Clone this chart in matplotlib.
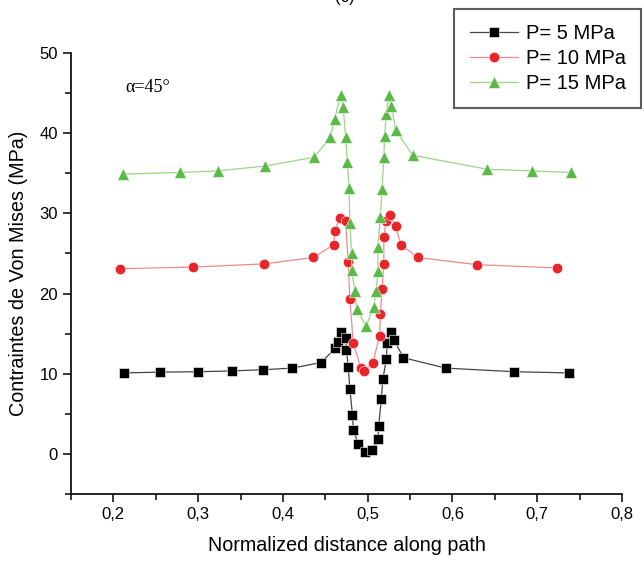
import matplotlib.pyplot as plt
from matplotlib.ticker import MultipleLocator, FuncFormatter

plt.rcParams['font.family'] = ['Liberation Sans', 'DejaVu Sans']

# P = 5 MPa
x_5 = [0.213, 0.255, 0.300, 0.340, 0.376, 0.411, 0.445, 0.462, 0.465, 0.469, 0.474, 0.475,
       0.477, 0.479, 0.482, 0.483, 0.489, 0.497, 0.505, 0.512, 0.513, 0.516, 0.518, 0.522,
       0.523, 0.527, 0.531, 0.542, 0.592, 0.673, 0.738]
y_5 = [10.1, 10.2, 10.25, 10.35, 10.5, 10.7, 11.4, 13.2, 14.0, 15.25, 14.5, 12.9,
       10.9, 8.1, 4.9, 3.0, 1.2, 0.2, 0.5, 1.8, 3.5, 6.8, 9.4, 11.8,
       13.8, 15.2, 14.25, 12.0, 10.7, 10.25, 10.1]

# P = 10 MPa
x_10 = [0.208, 0.294, 0.378, 0.436, 0.460, 0.461, 0.467, 0.474, 0.477, 0.479, 0.483, 0.492,
        0.496, 0.506, 0.514, 0.515, 0.517, 0.519, 0.519, 0.522, 0.526, 0.533, 0.539, 0.559,
        0.629, 0.723]
y_10 = [23.1, 23.3, 23.7, 24.5, 26.1, 27.8, 29.4, 29.0, 23.9, 19.3, 13.8, 10.7,
        10.3, 11.3, 14.7, 17.4, 20.6, 23.7, 27.1, 29.0, 29.8, 28.4, 26.1, 24.5,
        23.6, 23.2]

# P = 15 MPa
x_15 = [0.211, 0.279, 0.323, 0.379, 0.437, 0.456, 0.461, 0.468, 0.471, 0.474, 0.476, 0.478,
        0.479, 0.481, 0.481, 0.485, 0.487, 0.498, 0.507, 0.510, 0.512, 0.512, 0.515, 0.517,
        0.519, 0.520, 0.522, 0.525, 0.528, 0.533, 0.553, 0.641, 0.694, 0.740]
y_15 = [34.9, 35.1, 35.3, 35.9, 37.0, 39.5, 41.8, 44.8, 43.3, 39.5, 36.4, 33.2,
        28.8, 25.0, 22.9, 20.3, 18.1, 15.9, 18.3, 20.3, 22.75, 25.8, 29.6, 33.1,
        37.0, 39.7, 42.4, 44.8, 43.4, 40.4, 37.25, 35.5, 35.3, 35.1]

fig = plt.figure(figsize=(6.44, 5.63), dpi=100)
ax = fig.add_axes([71 / 644, 1 - 494 / 563, 551 / 644, 441 / 563])

l1, = ax.plot(x_5, y_5, color='#444444', lw=0.9, marker='s', ms=6.5,
              mfc='black', mec='white', mew=0.4, label='P= 5 MPa')
l2, = ax.plot(x_10, y_10, color='#f08a8a', lw=0.9, marker='o', ms=7.5,
              mfc='#e8262a', mec='white', mew=0.4, label='P= 10 MPa')
l3, = ax.plot(x_15, y_15, color='#98d48a', lw=0.9, marker='^', ms=8,
              mfc='#5bb947', mec='white', mew=0.4, label='P= 15 MPa')

ax.set_xlim(0.15, 0.8)
ax.set_ylim(-5, 50)
ax.spines['top'].set_visible(False)
ax.spines['right'].set_visible(False)
ax.spines['left'].set_linewidth(1.2)
ax.spines['bottom'].set_linewidth(1.2)

ax.xaxis.set_major_locator(MultipleLocator(0.1))
ax.xaxis.set_minor_locator(MultipleLocator(0.05))
ax.yaxis.set_major_locator(MultipleLocator(10))
ax.yaxis.set_minor_locator(MultipleLocator(5))
ax.xaxis.set_major_formatter(FuncFormatter(lambda v, p: f'{v:.1f}'.replace('.', ',')))
ax.yaxis.set_major_formatter(FuncFormatter(lambda v, p: f'{v:.0f}'))
ax.tick_params(which='major', direction='out', length=6, width=1.1, labelsize=12)
ax.tick_params(which='minor', direction='out', length=4, width=1.1)

ax.set_xlabel('Normalized distance along path', fontsize=14.2, labelpad=10)
ax.set_ylabel('Contraintes de Von Mises (MPa)', fontsize=14.2, labelpad=8)

ax.text(0.24, 45.7, 'α=45°', family='Liberation Serif', fontsize=13,
        ha='center', va='center')

fig.text(0.535, 1.004, '(c)', fontsize=12, ha='center', va='center')

leg = fig.legend(handles=[l1, l2, l3], loc='upper right',
                 bbox_to_anchor=(641 / 644, 1 - 9 / 563), fontsize=14.5,
                 fancybox=False, edgecolor='#333333', handlelength=2.4,
                 borderpad=0.75, labelspacing=0.3, handletextpad=0.4,
                 borderaxespad=0)
leg.get_frame().set_linewidth(1.5)

fig.savefig('out.png', dpi=100)
